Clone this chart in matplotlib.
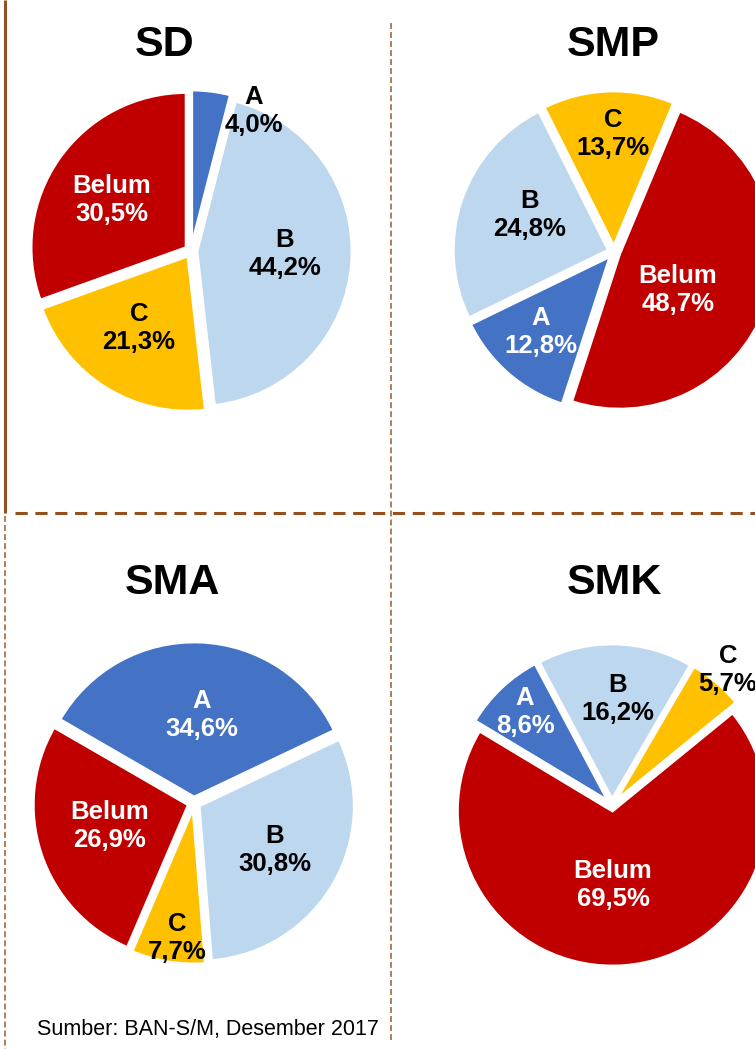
import matplotlib.pyplot as plt

W, H = 755, 1049

kategori = ['A', 'B', 'C', 'Belum']
sd = [4.0, 44.2, 21.3, 30.5]
smp = [12.8, 24.8, 13.7, 48.7]
sma = [34.6, 30.8, 7.7, 26.9]
smk = [8.6, 16.2, 5.7, 69.5]
judul = ['SD', 'SMP', 'SMA', 'SMK']
sumber = 'Sumber: BAN-S/M, Desember 2017'

warna = ['#4472C4', '#BDD7EE', '#FFC000', '#C00000']
coklat = '#94511F'

# posisi dalam piksel (y dihitung dari atas)
panel = [
    dict(data=sd, center=(191, 251), start=90, title=(165, 45),
         pos=[(254, 111), (285, 254), (139, 328), (112, 200)],
         tcol=['black', 'black', 'black', 'white']),
    dict(data=smp, center=(614, 252), start=252, title=(613, 45),
         pos=[(541, 332), (530, 215), (613, 134), (678, 290)],
         tcol=['white', 'black', 'black', 'white']),
    dict(data=sma, center=(194, 803), start=150, title=(172, 583),
         pos=[(202, 715), (275, 850), (177, 938), (110, 826)],
         tcol=['white', 'black', 'black', 'white']),
    dict(data=smk, center=(612, 805), start=149, title=(614, 583),
         pos=[(525, 712), (618, 699), (728, 670), (613, 885)],
         tcol=['white', 'black', 'black', 'white']),
]

plt.rcParams['font.family'] = ['Liberation Sans', 'DejaVu Sans']

fig = plt.figure(figsize=(W / 100, H / 100), dpi=100)
ax = fig.add_axes([0, 0, 1, 1])

for nama, p in zip(judul, panel):
    cx, cy = p['center']
    ax.pie(p['data'], colors=warna, startangle=p['start'], counterclock=False,
           radius=155, center=(cx, H - cy), explode=[6] * 4, frame=True,
           wedgeprops=dict(edgecolor='white', linewidth=2))
    tx, ty = p['title']
    ax.text(tx, H - ty, nama, ha='center', va='center', fontsize=31,
            fontweight='bold', color='black')
    for k, v, (lx, ly), c in zip(kategori, p['data'], p['pos'], p['tcol']):
        teks = k + '\n' + f'{v:.1f}%'.replace('.', ',')
        ax.text(lx, H - ly, teks, ha='center', va='center', fontsize=18.5,
                fontweight='bold', color=c, linespacing=1.25)

# garis pembatas
ax.plot([5, 5], [H, H - 513], color=coklat, lw=2.2, solid_capstyle='butt')
ax.plot([15, W], [H - 513, H - 513], color=coklat, lw=2.2,
        linestyle=(0, (4, 2.5)))
ax.plot([391, 391], [H - 23, H - 1040], color=coklat, lw=1.3, alpha=0.8,
        linestyle=(0, (3.3, 1.7)))
ax.plot([5, 5], [H - 516, 0], color=coklat, lw=1.3, alpha=0.8,
        linestyle=(0, (3.3, 1.7)))

ax.text(208, H - 1030, sumber, ha='center', va='center', fontsize=15.5,
        color='black')

ax.set_xlim(0, W)
ax.set_ylim(0, H)
ax.set_aspect('auto')
ax.axis('off')

fig.savefig('out.png', dpi=100)
